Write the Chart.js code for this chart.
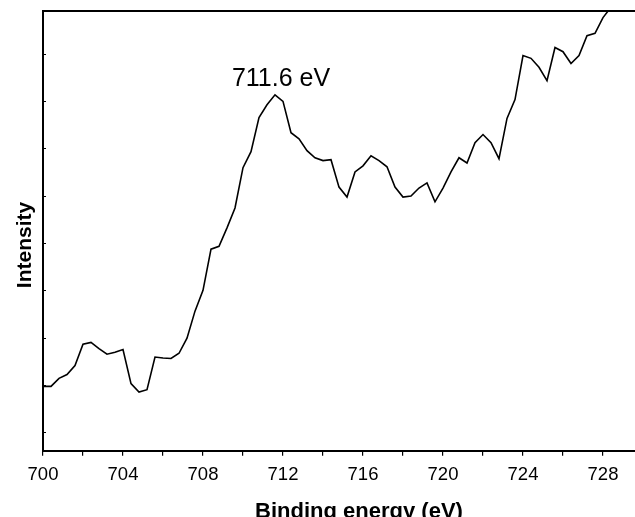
<!DOCTYPE html>
<html>
<head>
<meta charset="utf-8">
<script src="https://cdn.jsdelivr.net/npm/chart.js@4"></script>
<style>
  body { margin: 0; background: #fff; }
  #wrap { width: 635px; height: 517px; }
</style>
</head>
<body>
<div id="wrap"><canvas id="xpsChart"></canvas></div>
<script>
// binding energy (eV) and intensity (a.u., one unit = one y tick)
const energies = [700.0, 700.4, 700.8, 701.2, 701.6, 702.0, 702.4, 702.8, 703.2, 703.6,
    704.0, 704.4, 704.8, 705.2, 705.6, 706.0, 706.4, 706.8, 707.2, 707.6,
    708.0, 708.4, 708.8, 709.2, 709.6, 710.0, 710.4, 710.8, 711.2, 711.6,
    712.0, 712.4, 712.8, 713.2, 713.6, 714.0, 714.4, 714.8, 715.2, 715.6,
    716.0, 716.4, 716.8, 717.2, 717.6, 718.0, 718.4, 718.8, 719.2, 719.6,
    720.0, 720.4, 720.8, 721.2, 721.6, 722.0, 722.4, 722.8, 723.2, 723.6,
    724.0, 724.4, 724.8, 725.2, 725.6, 726.0, 726.4, 726.8, 727.2, 727.6,
    728.0, 728.4];
const intensity = [0.97, 0.97, 1.14, 1.22, 1.41, 1.86, 1.90, 1.77, 1.65, 1.69,
    1.75, 1.03, 0.85, 0.90, 1.59, 1.57, 1.56, 1.67, 1.99, 2.56,
    3.00, 3.87, 3.93, 4.32, 4.74, 5.59, 5.93, 6.65, 6.92, 7.13,
    6.99, 6.33, 6.20, 5.95, 5.80, 5.74, 5.76, 5.18, 4.97, 5.50,
    5.63, 5.84, 5.74, 5.61, 5.18, 4.97, 4.99, 5.16, 5.27, 4.87,
    5.16, 5.50, 5.80, 5.69, 6.12, 6.29, 6.12, 5.78, 6.63, 7.03,
    7.96, 7.90, 7.71, 7.43, 8.13, 8.04, 7.79, 7.96, 8.38, 8.43,
    8.76, 8.98];
const xRange = [700, 729.6];
const yRange = [-0.39, 8.9];
const peakLabel = { x: 711.6, y: 7.13, text: '711.6 eV' };
const xTitle = 'Binding energy (eV)';
const yTitle = 'Intensity';

const fontFamily = '"Liberation Sans", Arial, Helvetica, sans-serif';

const extras = {
    id: 'extras',
    afterDraw(chart) {
        const ctx = chart.ctx;
        const area = chart.chartArea;
        const xs = chart.scales.x;
        const ys = chart.scales.y;
        ctx.save();
        ctx.strokeStyle = '#000';
        // top frame line
        ctx.lineWidth = 2;
        ctx.beginPath();
        ctx.moveTo(area.left, area.top);
        ctx.lineTo(area.right, area.top);
        ctx.stroke();
        // inward y ticks
        ctx.lineWidth = 1;
        ys.ticks.forEach(t => {
            const py = Math.round(ys.getPixelForValue(t.value)) + 0.5;
            ctx.beginPath();
            ctx.moveTo(area.left, py);
            ctx.lineTo(area.left + 3, py);
            ctx.stroke();
        });
        ctx.fillStyle = '#000';
        // peak label
        ctx.font = '25px ' + fontFamily;
        ctx.textAlign = 'center';
        ctx.textBaseline = 'alphabetic';
        ctx.fillText(peakLabel.text, xs.getPixelForValue(peakLabel.x) + 6, ys.getPixelForValue(peakLabel.y) - 9);
        // axis titles
        ctx.font = 'bold 22px ' + fontFamily;
        ctx.fillText(xTitle, 359, 518);
        ctx.font = 'bold 21px ' + fontFamily;
        ctx.translate(31, 245);
        ctx.rotate(-Math.PI / 2);
        ctx.fillText(yTitle, 0, 0);
        ctx.restore();
    }
};

new Chart(document.getElementById('xpsChart'), {
    type: 'line',
    data: {
        datasets: [{
            data: energies.map((e, i) => ({ x: e, y: intensity[i] })),
            borderColor: '#000',
            borderWidth: 1.6,
            pointRadius: 0,
            tension: 0,
            fill: false
        }]
    },
    options: {
        responsive: true,
        maintainAspectRatio: false,
        animation: false,
        layout: { padding: { left: 43, top: 11, right: 0, bottom: 23 } },
        plugins: { legend: { display: false }, tooltip: { enabled: false } },
        scales: {
            x: {
                type: 'linear',
                min: xRange[0],
                max: xRange[1],
                ticks: {
                    stepSize: 2,
                    includeBounds: false,
                    autoSkip: false,
                    maxRotation: 0,
                    padding: 8,
                    color: '#000',
                    font: { family: fontFamily, size: 18.5 },
                    callback: v => (v % 4 === 0 ? String(v) : '')
                },
                grid: {
                    drawOnChartArea: false,
                    drawTicks: true,
                    tickLength: 5,
                    color: '#000',
                    lineWidth: 1.2
                },
                border: { display: true, color: '#000', width: 2 }
            },
            y: {
                type: 'linear',
                min: yRange[0],
                max: yRange[1],
                ticks: { display: false, stepSize: 1, includeBounds: false },
                grid: { display: false, drawTicks: false },
                border: { display: true, color: '#000', width: 2 }
            }
        }
    },
    plugins: [extras]
});
</script>
</body>
</html>
